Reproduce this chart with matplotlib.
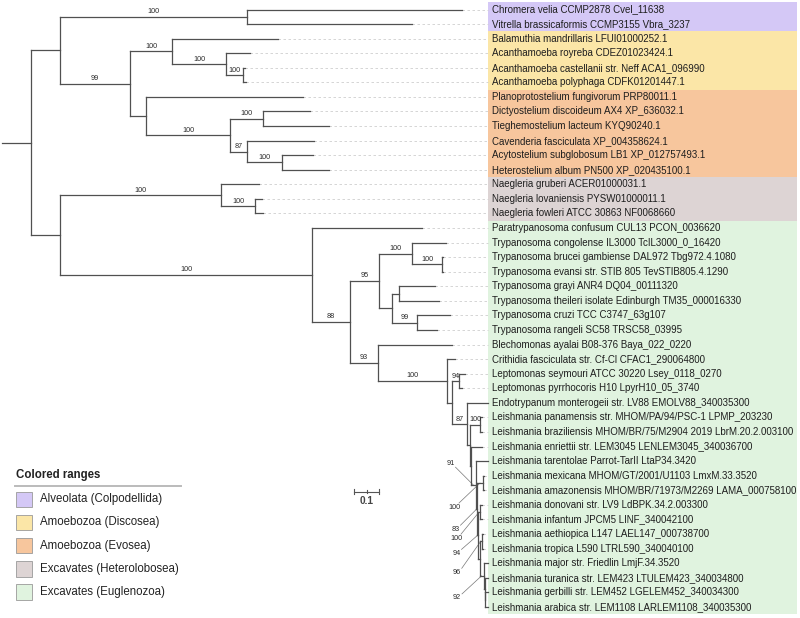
import matplotlib
matplotlib.use("Agg")
import matplotlib.pyplot as plt
from matplotlib.patches import Rectangle
from matplotlib.collections import LineCollection

plt.rcParams['font.family'] = ['Liberation Sans', 'DejaVu Sans']

leaf_names = [
    "Chromera velia CCMP2878 Cvel_11638",
    "Vitrella brassicaformis CCMP3155 Vbra_3237",
    "Balamuthia mandrillaris LFUI01000252.1",
    "Acanthamoeba royreba CDEZ01023424.1",
    "Acanthamoeba castellanii str. Neff ACA1_096990",
    "Acanthamoeba polyphaga CDFK01201447.1",
    "Planoprotostelium fungivorum PRP80011.1",
    "Dictyostelium discoideum AX4 XP_636032.1",
    "Tieghemostelium lacteum KYQ90240.1",
    "Cavenderia fasciculata XP_004358624.1",
    "Acytostelium subglobosum LB1 XP_012757493.1",
    "Heterostelium album PN500 XP_020435100.1",
    "Naegleria gruberi ACER01000031.1",
    "Naegleria lovaniensis PYSW01000011.1",
    "Naegleria fowleri ATCC 30863 NF0068660",
    "Paratrypanosoma confusum CUL13 PCON_0036620",
    "Trypanosoma congolense IL3000 TcIL3000_0_16420",
    "Trypanosoma brucei gambiense DAL972 Tbg972.4.1080",
    "Trypanosoma evansi str. STIB 805 TevSTIB805.4.1290",
    "Trypanosoma grayi ANR4 DQ04_00111320",
    "Trypanosoma theileri isolate Edinburgh TM35_000016330",
    "Trypanosoma cruzi TCC C3747_63g107",
    "Trypanosoma rangeli SC58 TRSC58_03995",
    "Blechomonas ayalai B08-376 Baya_022_0220",
    "Crithidia fasciculata str. Cf-Cl CFAC1_290064800",
    "Leptomonas seymouri ATCC 30220 Lsey_0118_0270",
    "Leptomonas pyrrhocoris H10 LpyrH10_05_3740",
    "Endotrypanum monterogeii str. LV88 EMOLV88_340035300",
    "Leishmania panamensis str. MHOM/PA/94/PSC-1 LPMP_203230",
    "Leishmania braziliensis MHOM/BR/75/M2904 2019 LbrM.20.2.003100",
    "Leishmania enriettii str. LEM3045 LENLEM3045_340036700",
    "Leishmania tarentolae Parrot-TarII LtaP34.3420",
    "Leishmania mexicana MHOM/GT/2001/U1103 LmxM.33.3520",
    "Leishmania amazonensis MHOM/BR/71973/M2269 LAMA_000758100",
    "Leishmania donovani str. LV9 LdBPK.34.2.003300",
    "Leishmania infantum JPCM5 LINF_340042100",
    "Leishmania aethiopica L147 LAEL147_000738700",
    "Leishmania tropica L590 LTRL590_340040100",
    "Leishmania major str. Friedlin LmjF.34.3520",
    "Leishmania turanica str. LEM423 LTULEM423_340034800",
    "Leishmania gerbilli str. LEM452 LGELEM452_340034300",
    "Leishmania arabica str. LEM1108 LARLEM1108_340035300",
]

range_names = ["Alveolata (Colpodellida)", "Amoebozoa (Discosea)", "Amoebozoa (Evosea)",
               "Excavates (Heterolobosea)", "Excavates (Euglenozoa)"]
range_sizes = [2, 4, 6, 3, 27]
range_colors = ["#d4c8f6", "#fbe6a7", "#f7c69d", "#ddd4d4", "#e0f3df"]

# leaves are indices into leaf_names, internal labels are bootstrap values
tree_newick = """
(((0:0.860,1:0.660)100:0.748,
  ((2:0.424,(3:0.096,(4:0.008,5:0.012)100:0.068)100:0.216)100:0.168,
   (6:0.628,((7:0.188,8:0.264)100:0.132,(9:0.268,(10:0.124,11:0.188)100:0.140)87:0.068)100:0.336):0.064
  )99:0.280):0.116,
 ((12:0.152,(13:0.028,14:0.032)100:0.136)100:0.644,
  (15:0.440,
   (((16:0.136,(17:0.002,18:0.002)100:0.120)100:0.132,
     ((19:0.144,20:0.160):0.028,(21:0.132,22:0.080)99:0.100):0.052)95:0.116,
    (23:0.296,
     (24:0.032,
      ((25:0.024,26:0.012)94:0.028,
       (27:0.084,
        ((28:0.006,29:0.008)100:0.040,
         (30:0.044,
          (31:0.048,
           ((32:0.004,33:0.004)100:0.024,
            ((34:0.006,35:0.006)100:0.008,
             ((36:0.004,37:0.004)96:0.010,
              (38:0.018,(39:0.014,(40:0.012,41:0.012):0.002):0.004)92:0.016):0.006
            )94:0.004
           )83:0.004
          )91:0.020
         ):0.004
        ):0.012
       )87:0.060
      ):0.020
     )100:0.276
    )93:0.112
   )88:0.152
  )100:1.008
 ):0.116
):0.116;
"""

scale_bar_length = 0.1

# ---- layout constants (pixel based) ----
PX_X = 250.0    # pixels per substitution unit
PX_Y = 14.57    # pixels per leaf row
X0, Y0 = 2.0, 9.5


def px(xp, yp):
    return (xp - X0) / PX_X, (yp - Y0) / PX_Y


def parse_newick(text):
    s = "".join(text.split()).rstrip(";")
    pos = 0

    def read():
        nonlocal pos
        node = {"children": [], "label": "", "length": 0.0}
        if s[pos] == "(":
            pos += 1
            while True:
                node["children"].append(read())
                if s[pos] == ",":
                    pos += 1
                    continue
                pos += 1
                break
        start = pos
        while pos < len(s) and s[pos] not in ",():":
            pos += 1
        node["label"] = s[start:pos]
        if pos < len(s) and s[pos] == ":":
            pos += 1
            start = pos
            while pos < len(s) and s[pos] not in ",()":
                pos += 1
            node["length"] = float(s[start:pos])
        return node

    return read()


def layout(node, x_parent):
    node["px"] = x_parent
    node["x"] = x_parent + node["length"]
    if node["children"]:
        for c in node["children"]:
            layout(c, node["x"])
        node["y"] = (node["children"][0]["y"] + node["children"][-1]["y"]) / 2
    else:
        node["y"] = float(node["label"])


def preorder(node):
    yield node
    for c in node["children"]:
        yield from preorder(c)


root = parse_newick(tree_newick)
layout(root, 0.0)
nodes = list(preorder(root))

fig = plt.figure(figsize=(8, 6.18), dpi=100)
ax = fig.add_axes([0, 0, 1, 1])
ax.set_xlim(px(0, 0)[0], px(800, 0)[0])
ax.set_ylim(px(0, 618)[1], px(0, 0)[1])
ax.axis("off")

label_col_x = px(488, 0)[0]
text_x = px(491.5, 0)[0]
box_right = px(797, 0)[0]

# colored ranges
start = 0
for name, n, col in zip(range_names, range_sizes, range_colors):
    ax.add_patch(Rectangle((label_col_x, start - 0.5), box_right - label_col_x, n,
                           facecolor=col, edgecolor="none", zorder=0))
    start += n

# branches
segs = []
for nd in nodes:
    segs.append([(nd["px"], nd["y"]), (nd["x"], nd["y"])])
    if nd["children"]:
        segs.append([(nd["x"], nd["children"][0]["y"]), (nd["x"], nd["children"][-1]["y"])])
ax.add_collection(LineCollection(segs, colors="#505050", linewidths=0.9, zorder=3,
                                 capstyle="projecting"))

# leaf labels and dashed guides
for nd in nodes:
    if nd["children"]:
        continue
    i = int(nd["label"])
    if nd["x"] < label_col_x:
        ax.plot([nd["x"], label_col_x], [nd["y"], nd["y"]], color="#cfcfcf",
                lw=0.6, ls=(0, (3, 3)), zorder=1)
    ax.text(text_x, nd["y"], leaf_names[i], fontsize=7, color="#1e1e1e",
            va="center", ha="left", zorder=4)

# bootstrap values
leader_offsets = [(-23, -22), (-21, 20), (-26, 24), (-21, 18), (-23, 26), (-24, 31), (-24.5, 22)]
k = 0
for nd in nodes:
    if not nd["children"] or not nd["label"]:
        continue
    xm = (nd["px"] + nd["x"]) / 2
    if nd["length"] < 0.026:
        dx, dy = leader_offsets[k]
        k += 1
        tx = xm + dx / PX_X
        ty = nd["y"] + dy / PX_Y
        sy = -4 if dy > 0 else 4
        ax.plot([tx + 5 / PX_X, xm], [ty + sy / PX_Y, nd["y"]], color="#777777", lw=0.5, zorder=2)
        ax.text(tx, ty, nd["label"], fontsize=5.2, color="#2a2a2a", ha="center", va="center")
    else:
        ax.text(xm, nd["y"] - 1.5 / PX_Y, nd["label"], fontsize=5.2, color="#2a2a2a",
                ha="center", va="bottom", zorder=4)

# scale bar
sx, sy = px(354, 491.7)
tick = 2.2 / PX_Y
ax.plot([sx, sx + scale_bar_length], [sy, sy], color="#555555", lw=0.8)
for t in (0, 0.5, 1):
    h = tick if t != 0.5 else tick * 0.6
    ax.plot([sx + t * scale_bar_length] * 2, [sy - h, sy + h], color="#555555", lw=0.8)
ax.text(sx + scale_bar_length / 2, sy + 4 / PX_Y, "0.1", fontsize=7.3, fontweight="bold",
        color="#444444", ha="center", va="top")

# legend
lx, ly = px(16, 475)
ax.text(lx, ly, "Colored ranges", fontsize=8.3, fontweight="bold", color="#222222",
        ha="left", va="center")
ax.plot([px(15, 0)[0], px(181, 0)[0]], [px(0, 486)[1]] * 2, color="#bbbbbb", lw=1.4)
bw, bh = 15.5 / PX_X, 15.5 / PX_Y
for j, (name, col) in enumerate(zip(range_names, range_colors)):
    cx, cy = px(16, 499.3 + j * 23.2)
    ax.add_patch(Rectangle((cx, cy - bh / 2), bw, bh, facecolor=col, edgecolor="#999999", lw=0.6))
    ax.text(px(40, 0)[0], cy, name, fontsize=8.3, color="#222222", ha="left", va="center")

fig.savefig("out.png", dpi=100)
